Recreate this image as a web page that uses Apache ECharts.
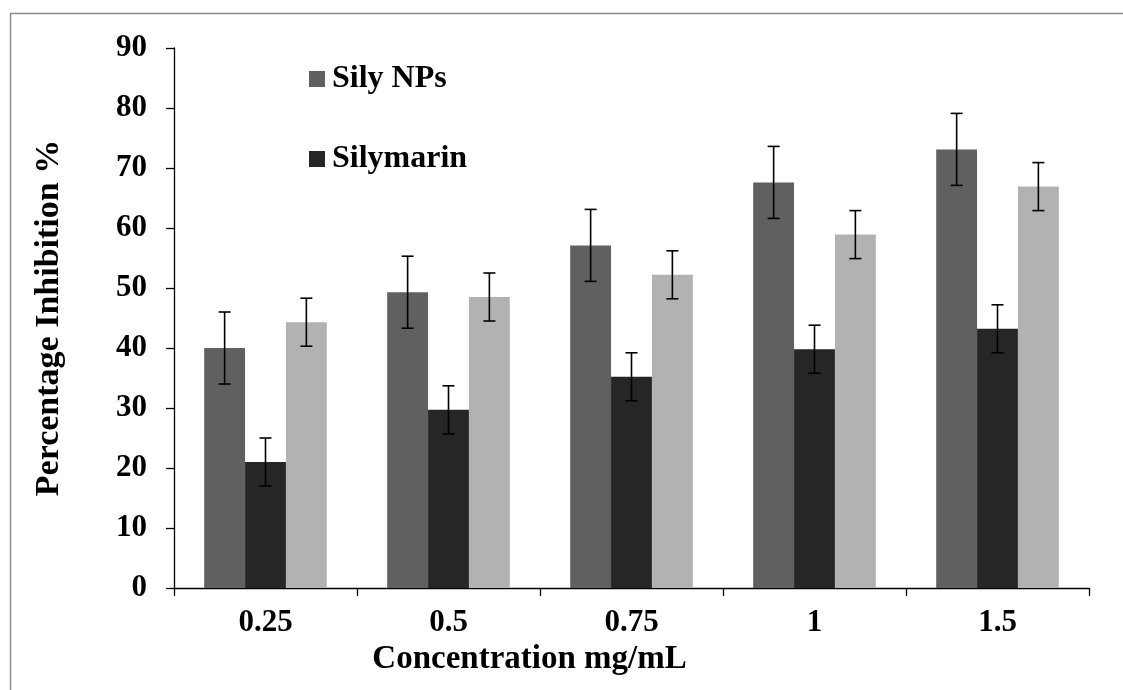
<!DOCTYPE html>
<html>
<head>
<meta charset="utf-8">
<script src="https://cdn.jsdelivr.net/npm/echarts@6/dist/echarts.min.js"></script>
<style>
  html, body { margin: 0; padding: 0; background: #ffffff; }
  #chart { width: 1123px; height: 690px; }
</style>
</head>
<body>
<div id="chart"></div>
<script>
// Concentrations on the x axis
const categories = ['0.25', '0.5', '0.75', '1', '1.5'];

// Percentage inhibition (mean) per group
const silyNPs = [40.0, 49.3, 57.1, 67.6, 73.1];
const silymarin = [21.0, 29.7, 35.2, 39.8, 43.2];
const thirdGroup = [44.3, 48.5, 52.2, 58.9, 66.9];

// Error bar half-heights
const silyNPsErr = [6, 6, 6, 6, 6];
const silymarinErr = [4, 4, 4, 4, 4];
const thirdGroupErr = [4, 4, 4, 4, 4];

// Y axis ticks
const yMin = 0, yMax = 90, yStep = 10;

const FONT = '"Liberation Serif", "Times New Roman", serif';
const CAT_GAP = 0.33;   // share of a category left empty
const N_BARS = 3;

const chart = echarts.init(document.getElementById('chart'), null, { renderer: 'canvas' });

function errorSeries(values, errs, slot) {
  return {
    type: 'custom',
    z: 10,
    silent: true,
    data: values.map((v, i) => [i, v, errs[i]]),
    encode: { x: 0, y: 1 },
    renderItem: function (params, api) {
      const idx = api.value(0);
      const mean = api.value(1);
      const err = api.value(2);
      const band = api.size([1, 0])[0];
      const barW = band * (1 - CAT_GAP) / N_BARS;
      const offset = (slot - (N_BARS - 1) / 2) * barW;
      const top = api.coord([idx, mean + err]);
      const bot = api.coord([idx, mean - err]);
      const x = top[0] + offset;
      const cap = 6;
      const style = { stroke: '#000000', lineWidth: 1.6, fill: null };
      return {
        type: 'group',
        children: [
          { type: 'line', shape: { x1: x, y1: top[1], x2: x, y2: bot[1] }, style: style },
          { type: 'line', shape: { x1: x - cap, y1: top[1], x2: x + cap, y2: top[1] }, style: style },
          { type: 'line', shape: { x1: x - cap, y1: bot[1], x2: x + cap, y2: bot[1] }, style: style }
        ]
      };
    }
  };
}

const option = {
  backgroundColor: '#ffffff',
  animation: false,
  graphic: [{
    type: 'rect',
    silent: true,
    shape: { x: 10.5, y: 13.5, width: 1300, height: 900 },
    style: { fill: null, stroke: '#8c8c8c', lineWidth: 1.5 }
  }],
  legend: {
    data: ['Sily NPs', 'Silymarin'],
    orient: 'vertical',
    left: 304,
    top: 58,
    itemWidth: 16,
    itemHeight: 16,
    itemGap: 48,
    icon: 'rect',
    selectedMode: false,
    textStyle: { fontFamily: FONT, fontWeight: 'bold', fontSize: 32, color: '#000000', lineHeight: 32, padding: [0, 0, 0, 2] }
  },
  grid: { left: 174, right: 34, top: 48, bottom: 102, containLabel: false },
  xAxis: {
    type: 'category',
    data: categories,
    name: 'Concentration mg/mL',
    nameLocation: 'middle',
    nameGap: 54,
    nameTextStyle: { fontFamily: FONT, fontWeight: 'bold', fontSize: 33, color: '#000000', padding: [0, 204, 0, 0] },
    axisLine: { lineStyle: { color: '#000000', width: 1.3 } },
    axisTick: { show: true, length: 8, alignWithLabel: false, lineStyle: { color: '#000000', width: 1.3 } },
    axisLabel: { fontFamily: FONT, fontWeight: 'bold', fontSize: 31, color: '#000000', margin: 19 },
    splitLine: { show: false }
  },
  yAxis: {
    type: 'value',
    min: yMin,
    max: yMax,
    interval: yStep,
    name: 'Percentage Inhibition %',
    nameLocation: 'middle',
    nameGap: 108,
    nameTextStyle: { fontFamily: FONT, fontWeight: 'bold', fontSize: 34, color: '#000000' },
    axisLine: { show: true, lineStyle: { color: '#000000', width: 1.3 } },
    axisTick: { show: true, length: 8, lineStyle: { color: '#000000', width: 1.3 } },
    axisLabel: { fontFamily: FONT, fontWeight: 'bold', fontSize: 31, color: '#000000', margin: 27 },
    splitLine: { show: false }
  },
  series: [
    {
      name: 'Sily NPs', type: 'bar', data: silyNPs,
      barGap: '0%', barCategoryGap: (CAT_GAP * 100) + '%',
      itemStyle: { color: '#606060' }
    },
    {
      name: 'Silymarin', type: 'bar', data: silymarin,
      itemStyle: { color: '#262626' }
    },
    {
      name: 'Group 3', type: 'bar', data: thirdGroup,
      itemStyle: { color: '#b2b2b2' }
    },
    errorSeries(silyNPs, silyNPsErr, 0),
    errorSeries(silymarin, silymarinErr, 1),
    errorSeries(thirdGroup, thirdGroupErr, 2)
  ]
};

chart.setOption(option);
</script>
</body>
</html>
